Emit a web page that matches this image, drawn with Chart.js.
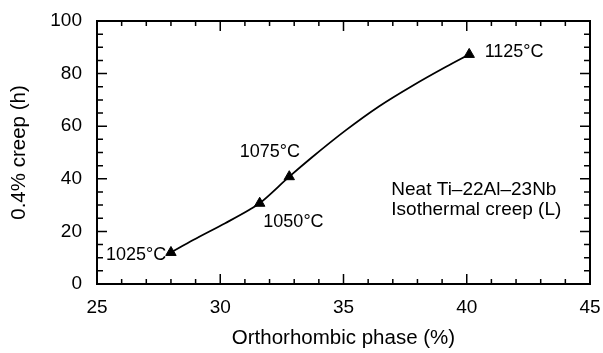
<!DOCTYPE html>
<html>
<head>
<meta charset="utf-8">
<script src="https://cdn.jsdelivr.net/npm/chart.js@4.4.0/dist/chart.umd.min.js"></script>
<style>
  html, body { margin: 0; padding: 0; background: #fff; }
</style>
</head>
<body>
<canvas id="chart" width="603" height="353"></canvas>
<script>
// measured points (orthorhombic phase %, hours to 0.4% creep)
const phase = [28.0, 31.6, 32.8, 40.1];
const creepHours = [12, 30.7, 40.8, 87.3];
const temps = ['1025°C', '1050°C', '1075°C', '1125°C'];

// the drawn curve
const curvePhase = [28.0, 28.9, 30.2, 31.2, 31.6, 32.8, 33.7, 35.1, 36.45, 37.8, 39.16, 40.1];
const curveHours = [12, 16.7, 23.1, 28.3, 30.7, 40.8, 48.0, 58.5, 67.6, 75.4, 82.6, 87.3];

// label anchors in data units
const labelX = [26.59, 32.97, 32.01, 41.92];
const labelY = [11.0, 23.7, 50.3, 88.3];
const noteLines = ['Neat Ti\u201322Al\u201323Nb', 'Isothermal creep (L)'];
const noteX = 36.94;
const noteY = [35.7, 28.1];

Chart.defaults.font.family = '"Liberation Sans", Arial, Helvetica, sans-serif';
Chart.defaults.color = '#000';

// keep the plot box where the layout padding puts it
function noOverflow(scale) {
    scale.paddingLeft = 0;
    scale.paddingRight = 0;
    scale.paddingTop = 0;
    scale.paddingBottom = 0;
}

// box round the plot with inward ticks on all four sides
const frameTicks = {
    id: 'frameTicks',
    afterDatasetsDraw(chart) {
        const { ctx, chartArea: a, scales: { x, y } } = chart;
        ctx.save();
        ctx.strokeStyle = '#000';
        ctx.lineWidth = 1.5;
        ctx.beginPath();
        for (let v = x.min; v <= x.max; v += 1) {
            const px = x.getPixelForValue(v);
            const len = v % 5 === 0 ? 10 : 5;
            ctx.moveTo(px, a.bottom); ctx.lineTo(px, a.bottom - len);
            ctx.moveTo(px, a.top); ctx.lineTo(px, a.top + len);
        }
        for (let v = y.min; v <= y.max; v += 5) {
            const py = y.getPixelForValue(v);
            const len = v % 20 === 0 ? 10 : 6;
            ctx.moveTo(a.left, py); ctx.lineTo(a.left + len, py);
            ctx.moveTo(a.right, py); ctx.lineTo(a.right - len, py);
        }
        ctx.stroke();
        ctx.lineWidth = 2;
        ctx.strokeRect(a.left, a.top, a.right - a.left, a.bottom - a.top);
        ctx.restore();
    }
};

const textLabels = {
    id: 'textLabels',
    afterDraw(chart) {
        const { ctx, scales: { x, y } } = chart;
        ctx.save();
        ctx.fillStyle = '#000';
        ctx.textBaseline = 'middle';
        ctx.textAlign = 'center';
        ctx.font = '18px "Liberation Sans", Arial, sans-serif';
        temps.forEach((t, i) => {
            ctx.fillText(t, x.getPixelForValue(labelX[i]), y.getPixelForValue(labelY[i]));
        });
        ctx.textAlign = 'left';
        ctx.font = '19px "Liberation Sans", Arial, sans-serif';
        noteLines.forEach((t, i) => {
            ctx.fillText(t, x.getPixelForValue(noteX), y.getPixelForValue(noteY[i]));
        });
        ctx.restore();
    }
};

new Chart(document.getElementById('chart'), {
    type: 'scatter',
    data: {
        datasets: [
            {
                label: 'curve',
                type: 'line',
                data: curvePhase.map((p, i) => ({ x: p, y: curveHours[i] })),
                borderColor: '#000',
                borderWidth: 1.8,
                pointRadius: 0,
                cubicInterpolationMode: 'monotone',
                fill: false
            },
            {
                label: 'points',
                data: phase.map((p, i) => ({ x: p, y: creepHours[i] })),
                pointStyle: 'triangle',
                pointRadius: 6,
                backgroundColor: '#000',
                borderColor: '#000',
                borderWidth: 1
            }
        ]
    },
    options: {
        responsive: false,
        animation: false,
        layout: { padding: { top: 21, right: 13, left: 0, bottom: 0 } },
        plugins: {
            legend: { display: false },
            tooltip: { enabled: false }
        },
        scales: {
            x: {
                type: 'linear',
                min: 25,
                max: 45,
                ticks: { stepSize: 5, padding: 12, font: { size: 19 }, color: '#000' },
                grid: { display: false, drawTicks: false },
                border: { display: false },
                title: {
                    display: true,
                    text: 'Orthorhombic phase (%)',
                    font: { size: 20.5 },
                    color: '#000',
                    padding: { top: 0, bottom: 2 }
                },
                afterFit(scale) { scale.height = 69; noOverflow(scale); }
            },
            y: {
                min: 0,
                max: 100,
                ticks: { stepSize: 20, padding: 15, font: { size: 19 }, color: '#000' },
                grid: { display: false, drawTicks: false },
                border: { display: false },
                title: {
                    display: true,
                    text: '0.4% creep (h)',
                    font: { size: 20.5 },
                    color: '#000',
                    padding: { top: 7, bottom: 0 }
                },
                afterFit(scale) { scale.width = 97; noOverflow(scale); }
            }
        }
    },
    plugins: [frameTicks, textLabels]
});
</script>
</body>
</html>
